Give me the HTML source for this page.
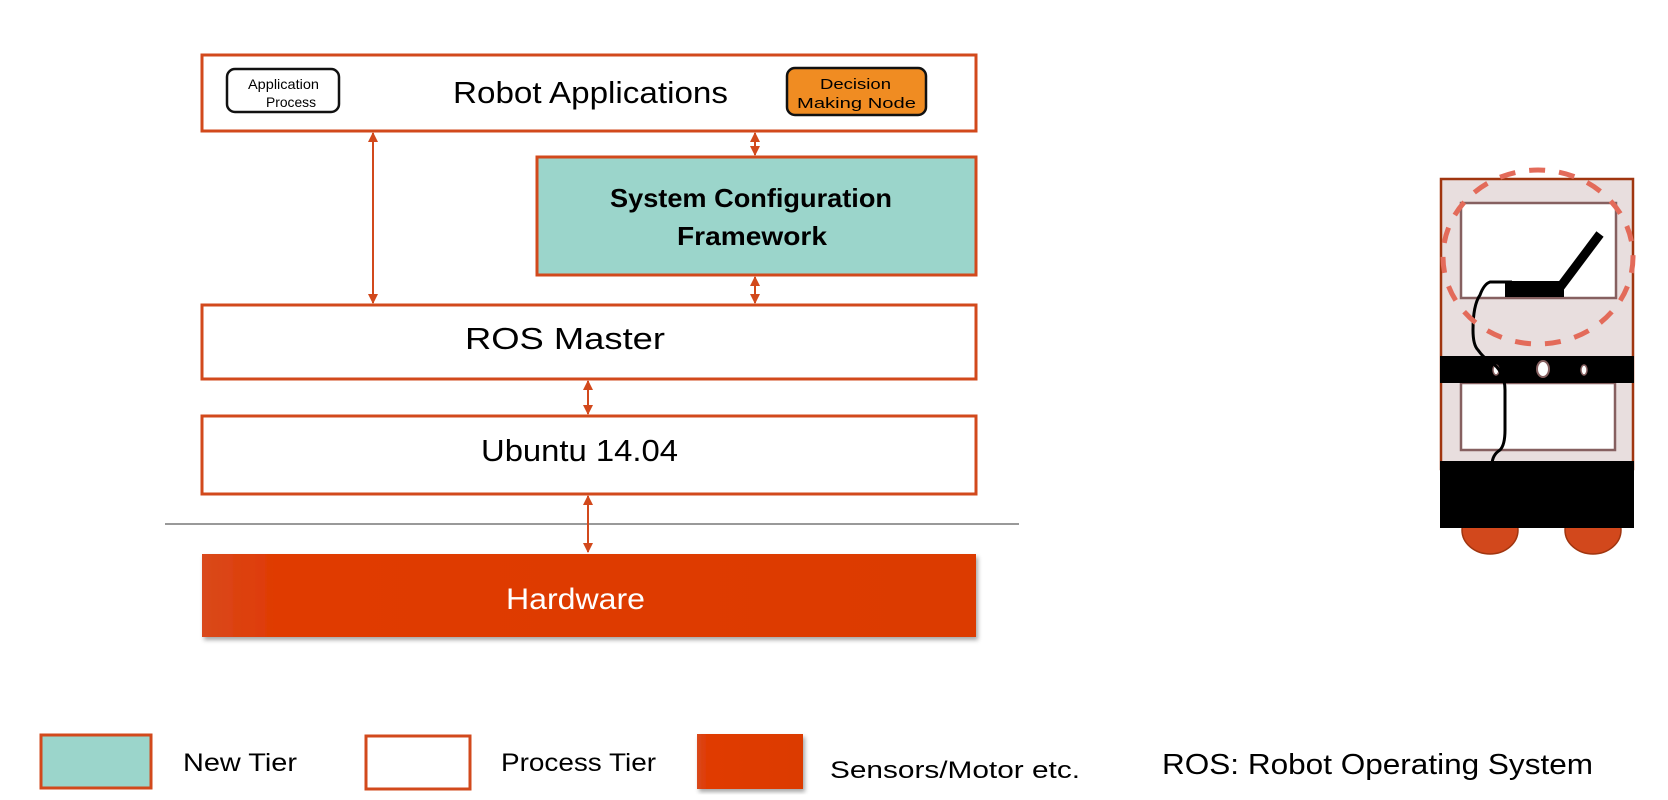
<!DOCTYPE html>
<html><head><meta charset="utf-8"><style>
html,body{margin:0;padding:0;background:#fff;}
svg{display:block;font-family:"Liberation Sans",sans-serif;}
</style></head><body>
<svg width="1668" height="800" viewBox="0 0 1668 800" xmlns="http://www.w3.org/2000/svg">
<defs>
<marker id="a" viewBox="0 0 10 10" refX="9" refY="5" markerWidth="5" markerHeight="5" orient="auto-start-reverse" markerUnits="strokeWidth">
<path d="M0,0 L10,5 L0,10 z" fill="#d2491c"/></marker>
<linearGradient id="hw" x1="0" x2="1"><stop offset="0" stop-color="#d9491c"/><stop offset="0.1" stop-color="#e03a02"/><stop offset="1" stop-color="#dc3a02"/></linearGradient>
<filter id="sh"><feDropShadow dx="2" dy="3" stdDeviation="2" flood-color="#000" flood-opacity="0.35"/></filter>
</defs>
<g stroke="#d2491c" stroke-width="3" fill="#fff">
<rect x="202" y="55" width="774" height="76"/>
<rect x="537" y="157" width="439" height="118" fill="#9bd5cb"/>
<rect x="202" y="305" width="774" height="74"/>
<rect x="202" y="416" width="774" height="78"/>
</g>
<rect x="227" y="69" width="112" height="43" rx="8" fill="#fff" stroke="#111" stroke-width="2.5"/>
<rect x="787" y="68" width="139" height="47" rx="8" fill="#f08c22" stroke="#111" stroke-width="2.5"/>
<text x="248" y="89" font-size="14" textLength="71" lengthAdjust="spacingAndGlyphs">Application</text>
<text x="266" y="107" font-size="14" textLength="50" lengthAdjust="spacingAndGlyphs">Process</text>
<text x="820" y="89" font-size="15" textLength="71" lengthAdjust="spacingAndGlyphs">Decision</text>
<text x="797" y="108" font-size="15" textLength="119" lengthAdjust="spacingAndGlyphs">Making Node</text>
<text x="453" y="103" font-size="31" textLength="275" lengthAdjust="spacingAndGlyphs">Robot Applications</text>
<text x="610" y="207" font-size="26" font-weight="bold" textLength="282" lengthAdjust="spacingAndGlyphs">System Configuration</text>
<text x="677" y="245" font-size="26" font-weight="bold" textLength="150" lengthAdjust="spacingAndGlyphs">Framework</text>
<text x="465" y="349" font-size="31" textLength="200" lengthAdjust="spacingAndGlyphs">ROS Master</text>
<text x="481" y="461" font-size="31" textLength="197" lengthAdjust="spacingAndGlyphs">Ubuntu 14.04</text>
<line x1="165" y1="524" x2="1019" y2="524" stroke="#999" stroke-width="2"/>
<rect x="202" y="554" width="774" height="83" fill="url(#hw)" filter="url(#sh)"/>
<text x="506" y="609" font-size="30" fill="#fff" textLength="139" lengthAdjust="spacingAndGlyphs">Hardware</text>
<g stroke="#d2491c" stroke-width="2" marker-start="url(#a)" marker-end="url(#a)">
<line x1="373" y1="133" x2="373" y2="303"/>
<line x1="755" y1="133" x2="755" y2="155"/>
<line x1="755" y1="277" x2="755" y2="303"/>
<line x1="588" y1="381" x2="588" y2="414"/>
<line x1="588" y1="496" x2="588" y2="552"/>
</g>
<rect x="41" y="735" width="110" height="53" fill="#9bd5cb" stroke="#d2491c" stroke-width="3"/>
<rect x="366" y="736" width="104" height="53" fill="#fff" stroke="#d2491c" stroke-width="3"/>
<rect x="697" y="734" width="106" height="55" fill="url(#hw)" filter="url(#sh)"/>
<text x="183" y="771" font-size="25" textLength="114" lengthAdjust="spacingAndGlyphs">New Tier</text>
<text x="501" y="771" font-size="25" textLength="155" lengthAdjust="spacingAndGlyphs">Process Tier</text>
<text x="830" y="778" font-size="24" textLength="250" lengthAdjust="spacingAndGlyphs">Sensors/Motor etc.</text>
<text x="1162" y="774" font-size="29" textLength="431" lengthAdjust="spacingAndGlyphs">ROS: Robot Operating System</text>
<ellipse cx="1490" cy="530" rx="28" ry="24" fill="#d2481c" stroke="#a0350f" stroke-width="1.5"/>
<ellipse cx="1593" cy="530" rx="28" ry="24" fill="#d2481c" stroke="#a0350f" stroke-width="1.5"/>
<rect x="1441" y="179" width="192" height="290" fill="#e8dede" stroke="#a0350f" stroke-width="2.5"/>
<rect x="1461" y="203" width="155" height="95" fill="#fff" stroke="#866060" stroke-width="2.5"/>
<rect x="1461" y="383" width="154" height="67" fill="#fff" stroke="#866060" stroke-width="2.5"/>
<rect x="1440" y="356" width="194" height="27" fill="#000"/>
<rect x="1440" y="461" width="194" height="67" fill="#000"/>
<ellipse cx="1496" cy="370" rx="3" ry="5" fill="#fff" stroke="#866060" stroke-width="1.5"/>
<ellipse cx="1543" cy="369" rx="6" ry="8" fill="#fff" stroke="#866060" stroke-width="2"/>
<ellipse cx="1584" cy="370" rx="3" ry="5" fill="#fff" stroke="#866060" stroke-width="1.5"/>
<rect x="1505" y="281" width="59" height="16" fill="#000"/>
<line x1="1558" y1="290" x2="1600" y2="234" stroke="#000" stroke-width="9"/>
<path d="M1512,282 L1490,282 Q1484,284 1480,295 Q1473,305 1473,330 Q1473,345 1478,350 Q1483,357 1488,360 Q1505,370 1505,390 L1505,430 Q1505,445 1500,450 Q1492,455 1492,465" fill="none" stroke="#000" stroke-width="3"/>
<ellipse cx="1538" cy="257" rx="95" ry="87" fill="none" stroke="#e36b5a" stroke-width="5" stroke-dasharray="16 14"/>
</svg>
</body></html>
